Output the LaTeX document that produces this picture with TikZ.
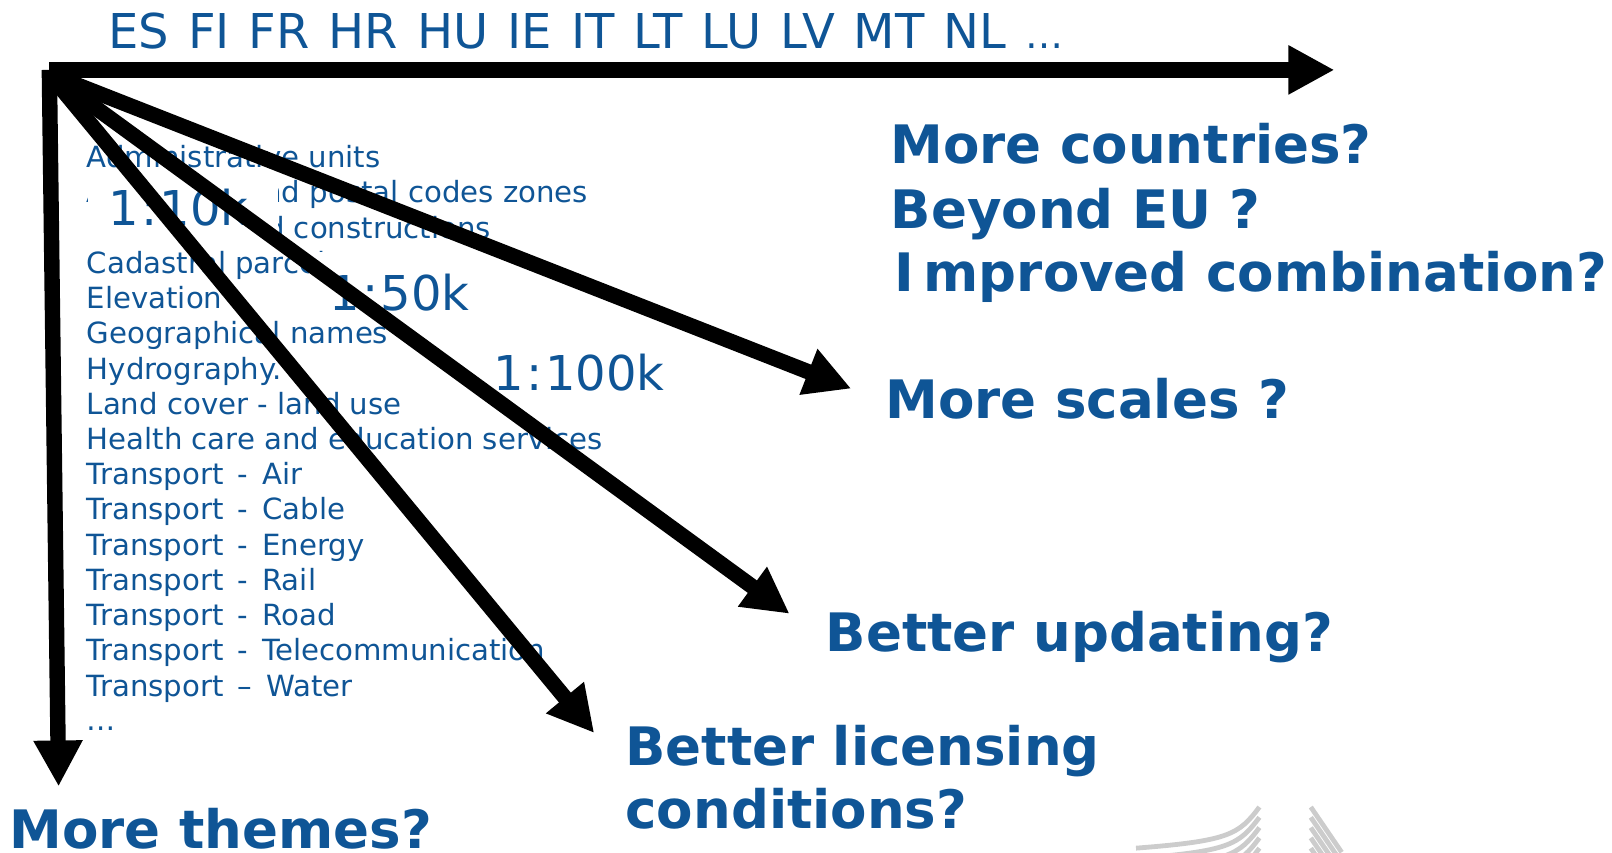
\documentclass[tikz,border=0pt]{standalone}
\usepackage{fontspec}
\setmainfont{DejaVu Sans}
\usetikzlibrary{arrows.meta}
\definecolor{eublue}{RGB}{15,85,150}
\newcommand{\tsp}{\spaceskip=7pt\relax}
\newcommand{\clk}{\kern1.2pt:\kern1.2pt}
\tikzset{
 thm/.style={anchor=base west,inner sep=0pt,text=eublue,font=\fontsize{14.6pt}{17pt}\selectfont},
 scl/.style={anchor=west,inner sep=0pt,text=eublue,font=\fontsize{24pt}{28pt}\selectfont},
 qst/.style={anchor=base west,inner sep=0pt,text=eublue,font=\bfseries\fontsize{26.5pt}{32pt}\selectfont},
 big/.style={line width=7.7pt,-{Triangle[length=23pt,width=23pt]}},
 logo/.style={line width=2.4pt,draw=black!20}
}
\begin{document}
\begin{tikzpicture}[x=0.514pt,y=-0.514pt]
\useasboundingbox (0,0) rectangle (1568,829);
\node[anchor=west,inner sep=0pt,text=eublue,font=\fontsize{24pt}{28pt}\selectfont] (cc) at (105,30) {\spaceskip=9.5pt\relax ES FI FR HR HU IE IT LT LU LV MT NL {\fontsize{19pt}{20pt}\selectfont\dots}};
\foreach \t/\y/\n in {Administrative units/163/a,Addresses and postal codes zones/197/b,Buildings and constructions/232/c,Cadastral parcels/266/d,Elevation/300/e,Geographical names/334/f,Hydrography./369/g,Land cover - land use/403/h,Health care and education services/437/i,\tsp Transport - Air/471/j,\tsp Transport - Cable/505/k,\tsp Transport - Energy/540/l,\tsp Transport - Rail/574/m,\tsp Transport - Road/608/n,\tsp Transport - Telecommunication/642/o,\tsp Transport – Water/677/p}
  \node[thm] (t\n) at (84,\y) {\t};
\node[thm] (tq) at (84,711) {\dots};
\fill[white] (86,172) rectangle (270,238);
\fill[white] (301,245) rectangle (460,316);
\node[scl] (s1) at (105,202) {1\clk 10k};
\node[scl] (s2) at (320,285) {1\clk 50k};
\node[scl] (s3) at (480,362) {1\clk 100k};
\node[qst] (q1) at (866,159) {More countries?};
\node[qst] (q2) at (866,222) {Beyond EU ?};
\node[qst] (q3) at (870,284) {I\kern4.6pt mproved combination?};
\node[qst] (q4) at (861,407) {More scales ?};
\node[qst] (q5) at (803,634) {Better updating?};
\node[qst] (q6) at (608,745) {Better licensing};
\node[qst] (q7) at (608,806) {conditions?};
\node[qst] (q8) at (9,825) {More themes?};
\coordinate (o) at (48,68);
\coordinate (o2) at (48,72);
\coordinate (e1) at (1298,68);
\coordinate (e2) at (828,378);
\coordinate (e3) at (768,597);
\coordinate (e4) at (578,713);
\coordinate (e5) at (57,765);
\draw[big] (o) -- (e1);
\draw[big] (o2) -- (e2);
\draw[big] (o2) -- (e3);
\draw[big] (o2) -- (e4);
\draw[big] (o) -- (e5);
\begin{scope}
\clip (0,0) rectangle (1568,829);
\foreach \k in {0,1,2,3,4}{
 \draw[logo] (1105,{825+\k*10}) .. controls ({1195},{818+\k*10}) and ({1205},{812+\k*10}) .. (1225,{785+\k*10});
 \draw[logo] (1275,{785+\k*10}) -- (1305,{829+\k*10});
}
\end{scope}
\end{tikzpicture}
\end{document}
